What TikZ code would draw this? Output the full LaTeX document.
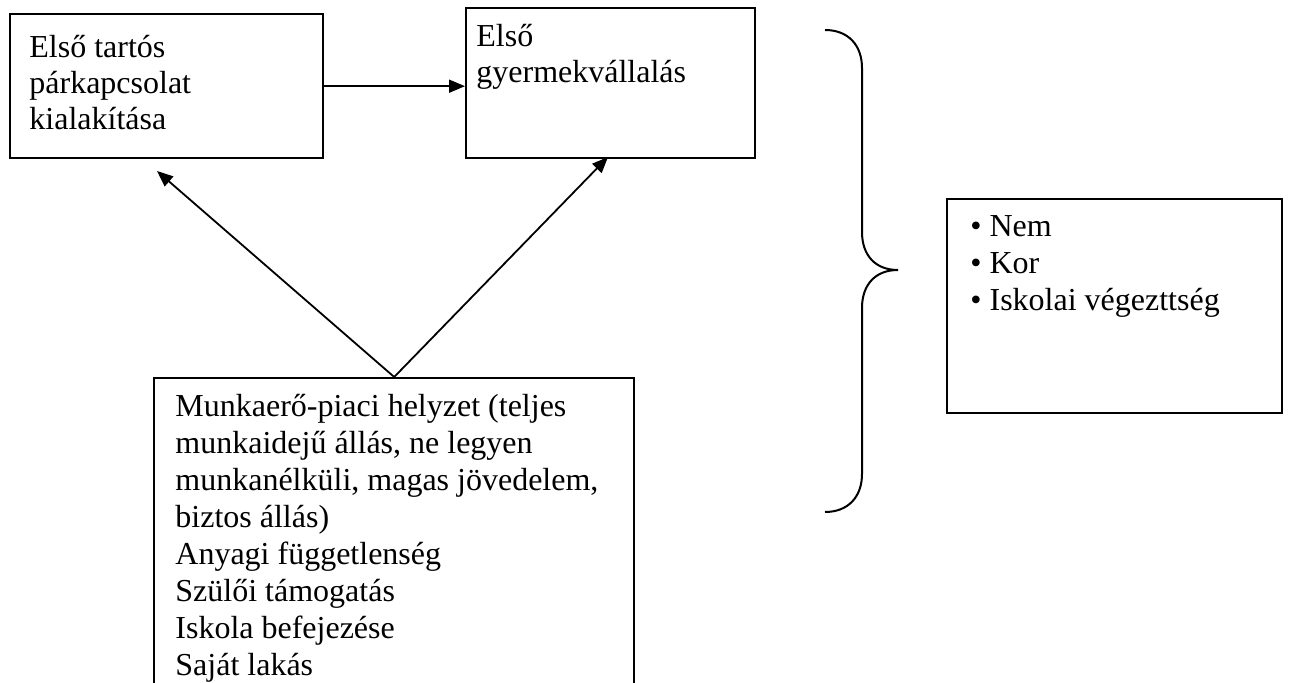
\documentclass[tikz,border=0pt]{standalone}
\usepackage{fontspec}
\setmainfont{Liberation Serif}
\usetikzlibrary{arrows.meta}
\begin{document}
\begin{tikzpicture}[x=0.5pt,y=-0.5pt,
  boxnode/.style={draw,line width=1.2pt,inner sep=0pt,anchor=north west},
  txt/.style={anchor=base west,inner sep=0pt,font=\fontsize{16}{18}\selectfont},
  txtb/.style={anchor=base west,inner sep=0pt,font=\fontsize{16}{18.5}\selectfont},
  arr/.style={line width=0.9pt,-{Triangle[length=8pt,width=6.5pt]}},
  bracepath/.style={line width=1pt}
]
\useasboundingbox (0,0) rectangle (1290,683);
\clip (0,0) rectangle (1290,683);
% boxes
\node[boxnode,minimum width=156.5pt,minimum height=72pt] (b1) at (9,13) {};
\node[boxnode,minimum width=144.5pt,minimum height=75pt] (b2) at (465,7) {};
\node[boxnode,minimum width=240pt,minimum height=161.5pt] (bot) at (153,377) {};
\node[boxnode,minimum width=167.5pt,minimum height=107pt] (rb) at (946,198) {};
% texts
\node[txt] (t1) at (29,58) {\begin{tabular}[t]{@{}l@{}}Első tartós\\párkapcsolat\\kialakítása\end{tabular}};
\node[txt] (t2) at (476,47) {\begin{tabular}[t]{@{}l@{}}Első\\gyermekvállalás\end{tabular}};
\node[txtb] (t3) at (175,417) {\begin{tabular}[t]{@{}l@{}}Munkaerő-piaci helyzet (teljes\\munkaidejű állás, ne legyen\\munkanélküli, magas jövedelem,\\biztos állás)\\Anyagi függetlenség\\Szülői támogatás\\Iskola befejezése\\Saját lakás\end{tabular}};
\node[txtb] (t4) at (970,237) {\begin{tabular}[t]{@{}l@{}}• Nem\\• Kor\\• Iskolai végezttség\end{tabular}};
% connectors
\coordinate (p1) at (157,171);
\coordinate (p2) at (608,157);
\draw[arr] (b1.east) -- (b1.east -| b2.west);
\draw[arr] (bot.north) -- (p1);
\draw[arr] (bot.north) -- (p2);
% brace
\draw[bracepath] (825,30) .. controls (848,30) and (862,45) .. (862,68) -- (862,232)
  .. controls (862,255) and (875,270) .. (898,270)
  .. controls (875,270) and (862,285) .. (862,308) -- (862,474)
  .. controls (862,497) and (848,512) .. (825,512);
\end{tikzpicture}
\end{document}
